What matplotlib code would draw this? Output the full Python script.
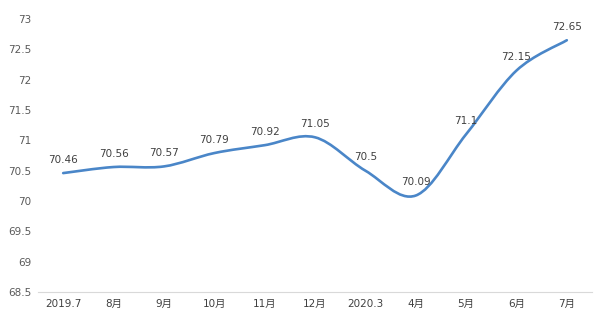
import numpy as np
import matplotlib.pyplot as plt
from matplotlib.path import Path
from matplotlib.patches import PathPatch

plt.rcParams['font.family'] = ['DejaVu Sans', 'Noto Sans CJK SC']

# Data
months = ['2019.7', '8月', '9月', '10月', '11月', '12月', '2020.3', '4月', '5月', '6月', '7月']
values = [70.46, 70.56, 70.57, 70.79, 70.92, 71.05, 70.5, 70.09, 71.1, 72.15, 72.65]
yticks = [68.5, 69, 69.5, 70, 70.5, 71, 71.5, 72, 72.5, 73]

fig = plt.figure(figsize=(5.99, 3.21), dpi=100)
ax = fig.add_axes([38 / 599, 29 / 321, 554 / 599, 273 / 321])

x = np.arange(len(months))
y = np.array(values)

# Smoothed line like Excel (Catmull-Rom -> cubic Bezier)
verts = [(x[0], y[0])]
codes = [Path.MOVETO]
n = len(x)
for i in range(n - 1):
    p0 = np.array([x[max(i - 1, 0)], y[max(i - 1, 0)]])
    p1 = np.array([x[i], y[i]])
    p2 = np.array([x[i + 1], y[i + 1]])
    p3 = np.array([x[min(i + 2, n - 1)], y[min(i + 2, n - 1)]])
    c1 = p1 + (p2 - p0) / 6
    c2 = p2 - (p3 - p1) / 6
    verts += [tuple(c1), tuple(c2), tuple(p2)]
    codes += [Path.CURVE4] * 3
ax.add_patch(PathPatch(Path(verts, codes), facecolor='none', edgecolor='#4a86c8',
                       linewidth=1.9, capstyle='round'))

for xi, yi in zip(x, values):
    ax.annotate(f'{yi:g}', (xi, yi), xytext=(0, 6), textcoords='offset points',
                ha='center', va='bottom', fontsize=7.5, color='#404040')

ax.set_xlim(-0.5, n - 0.5)
ax.set_ylim(68.5, 73)
ax.set_xticks(x)
ax.set_xticklabels(months, fontsize=7.5, color='#404040')
ax.set_yticks(yticks)
ax.set_yticklabels([f'{t:g}' for t in yticks], fontsize=7.5, color='#595959')
ax.tick_params(length=0, pad=5)
for s in ['top', 'right', 'left']:
    ax.spines[s].set_visible(False)
ax.spines['bottom'].set_color('#d9d9d9')

fig.savefig('out.png', dpi=100)
